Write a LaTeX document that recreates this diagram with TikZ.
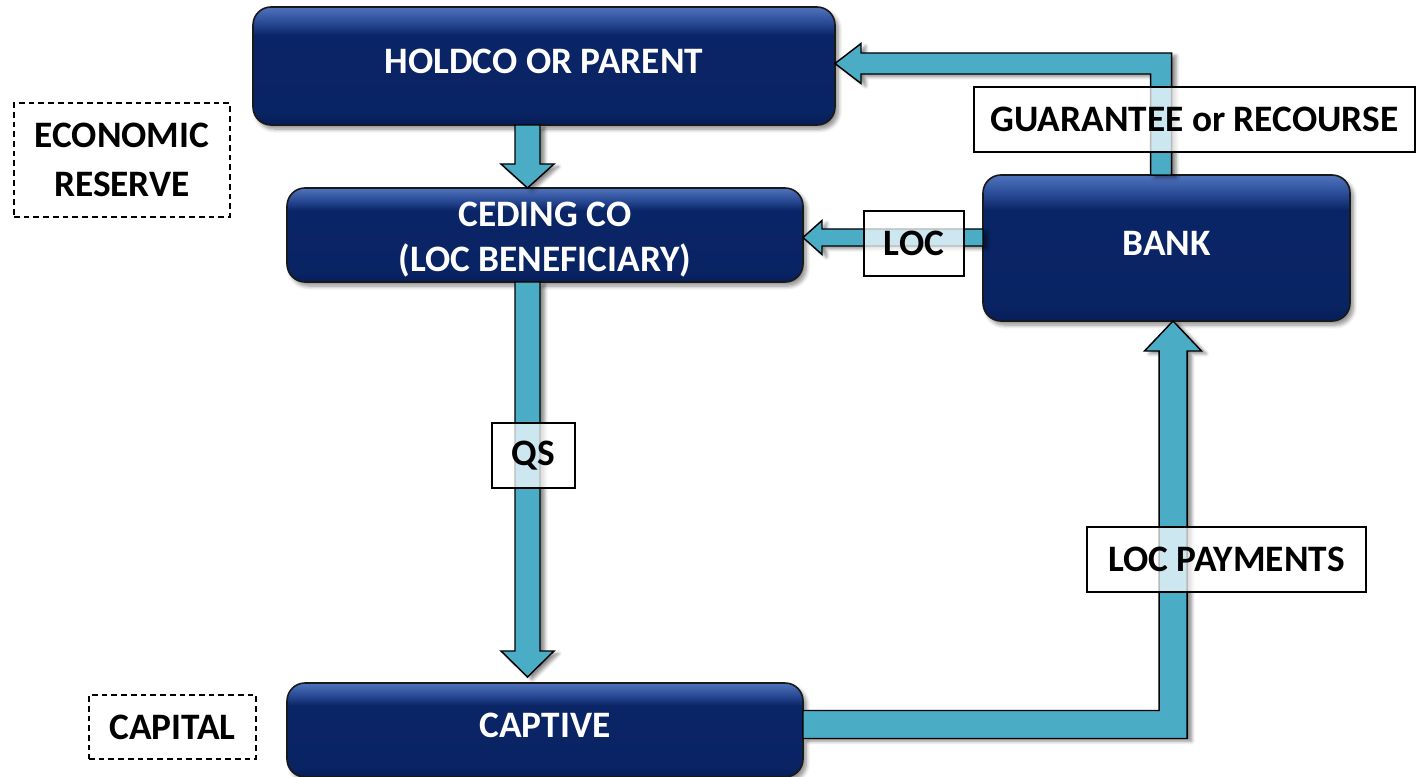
\documentclass[tikz,border=0pt]{standalone}
\usepackage{fontspec}
\setmainfont{Carlito}
\usetikzlibrary{calc,shadows.blur}

\definecolor{arrowteal}{HTML}{4BACC6}
\definecolor{navybot}{HTML}{061D57}
\definecolor{navymid}{HTML}{0A2566}
\definecolor{navyhigh}{HTML}{2C4E99}
\definecolor{navytop}{HTML}{5073BC}

% bevelled navy fill: light rim on top, dark body
\pgfdeclareverticalshading{navybevel}{100bp}{color(0bp)=(navybot); color(25bp)=(navybot); color(30bp)=(navymid!80!navybot); color(63bp)=(navymid); color(69bp)=(navyhigh); color(75bp)=(navytop); color(100bp)=(navytop)}

\tikzset{
  x=0.75pt, y=-0.75pt,
  textfont/.style={font=\fontsize{28}{34}\selectfont\bfseries},
  entity/.style={textfont, rounded corners=13.5pt, draw=black!90, line width=1.2pt,
    shading=navybevel, text=white, align=center, inner sep=0pt, outer sep=0pt,
    blur shadow={shadow xshift=2.5pt, shadow yshift=-3pt, shadow blur radius=3pt,
      shadow blur steps=6, shadow opacity=45}},
  oneline/.style={text depth=7pt},
  tag/.style={textfont, draw=black, line width=0.9pt, fill=white, fill opacity=0.72,
    text opacity=1, inner sep=0pt, outer sep=0pt, minimum height=48.75pt},
  note/.style={textfont, draw=black, line width=1.1pt, dash pattern=on 4.3pt off 3pt,
    align=center, inner sep=0pt, outer sep=0pt},
  blockarrow/.style={fill=arrowteal, draw=black, line width=1.1pt, line join=miter,
    blur shadow={shadow xshift=3.5pt, shadow yshift=-2pt, shadow blur radius=2.5pt,
      shadow blur steps=5, shadow opacity=45}},
}

\begin{document}
\begin{tikzpicture}
\useasboundingbox (0,0) rectangle (1416,777);

% entities
\node[entity, oneline, minimum width=436.5pt, minimum height=88.5pt] (holdco) at (544,66) {HOLDCO OR PARENT};
\node[entity, minimum width=387pt, minimum height=70.5pt] (ceding) at (545,235) {\rule{0pt}{25pt}CEDING CO\\(LOC BENEFICIARY)};
\node[entity, oneline, minimum width=275.25pt, minimum height=109.5pt] (bank) at (1166.5,248) {BANK};
\node[entity, oneline, minimum width=387pt, minimum height=70.5pt] (captive) at (545,730) {CAPTIVE};

% side notes
\node[note, minimum width=162pt, minimum height=85.5pt, font=\fontsize{28}{36.75}\selectfont\bfseries] (econ) at (122,160) {ECONOMIC\\RESERVE};
\node[note, minimum width=125.25pt, minimum height=48pt] (capital) at (172.5,727) {CAPITAL};

% arrow axes
\coordinate (axA) at (527.5,0);
\coordinate (axB) at (1161,63.5);
\coordinate (axC) at (1173,724.5);
\coordinate (axD) at (0,237.5);

% holdco -> ceding
\path[blockarrow] ($(holdco.south -| axA)+(-12.5,0)$) -- ($(ceding.north -| axA)+(-12.5,-24)$)
  -- ($(ceding.north -| axA)+(-26.5,-24)$) -- (ceding.north -| axA)
  -- ($(ceding.north -| axA)+(26.5,-24)$) -- ($(ceding.north -| axA)+(12.5,-24)$)
  -- ($(holdco.south -| axA)+(12.5,0)$) -- cycle;

% ceding -> captive (QS)
\coordinate (qstip) at ($(captive.north -| axA)+(0,-6)$);
\path[blockarrow] ($(ceding.south -| axA)+(-12.5,0)$) -- ($(qstip)+(-12.5,-26)$)
  -- ($(qstip)+(-26.5,-26)$) -- (qstip) -- ($(qstip)+(26.5,-26)$)
  -- ($(qstip)+(12.5,-26)$) -- ($(ceding.south -| axA)+(12.5,0)$) -- cycle;

% captive -> bank (LOC payments)
\path[blockarrow] ($(captive.east |- axC)+(0,-14)$) -- ($(axC)+(-14,-14)$)
  -- ($(bank.south -| axC)+(-14,30)$) -- ($(bank.south -| axC)+(-28.5,30)$)
  -- (bank.south -| axC) -- ($(bank.south -| axC)+(28.5,30)$)
  -- ($(bank.south -| axC)+(14,30)$) -- ($(axC)+(14,14)$)
  -- ($(captive.east |- axC)+(0,14)$) -- cycle;

% bank -> holdco (guarantee)
\path[blockarrow] ($(bank.north -| axB)+(-10.5,0)$) -- ($(axB)+(-10.5,10.5)$)
  -- ($(holdco.east |- axB)+(26,10.5)$) -- ($(holdco.east |- axB)+(26,20)$)
  -- (holdco.east |- axB) -- ($(holdco.east |- axB)+(26,-20)$)
  -- ($(holdco.east |- axB)+(26,-10.5)$) -- ($(axB)+(10.5,-10.5)$)
  -- ($(bank.north -| axB)+(10.5,0)$) -- cycle;

% bank -> ceding (LOC)
\path[blockarrow] ($(bank.west |- axD)+(0,-8.5)$) -- ($(ceding.east |- axD)+(19,-8.5)$)
  -- ($(ceding.east |- axD)+(19,-17)$) -- (ceding.east |- axD)
  -- ($(ceding.east |- axD)+(19,17)$) -- ($(ceding.east |- axD)+(19,8.5)$)
  -- ($(bank.west |- axD)+(0,8.5)$) -- cycle;

% flow labels
\node[tag, minimum width=75pt] (loc) at (914,243.5) {LOC};
\node[tag, minimum width=330.75pt] (guar) at (1194.5,119.5) {GUARANTEE or RECOURSE};
\node[tag, minimum width=62.25pt] (qs) at (533.5,455.5) {QS};
\node[tag, minimum width=209.25pt] (locpay) at (1226.5,559.5) {LOC PAYMENTS};
\end{tikzpicture}
\end{document}
